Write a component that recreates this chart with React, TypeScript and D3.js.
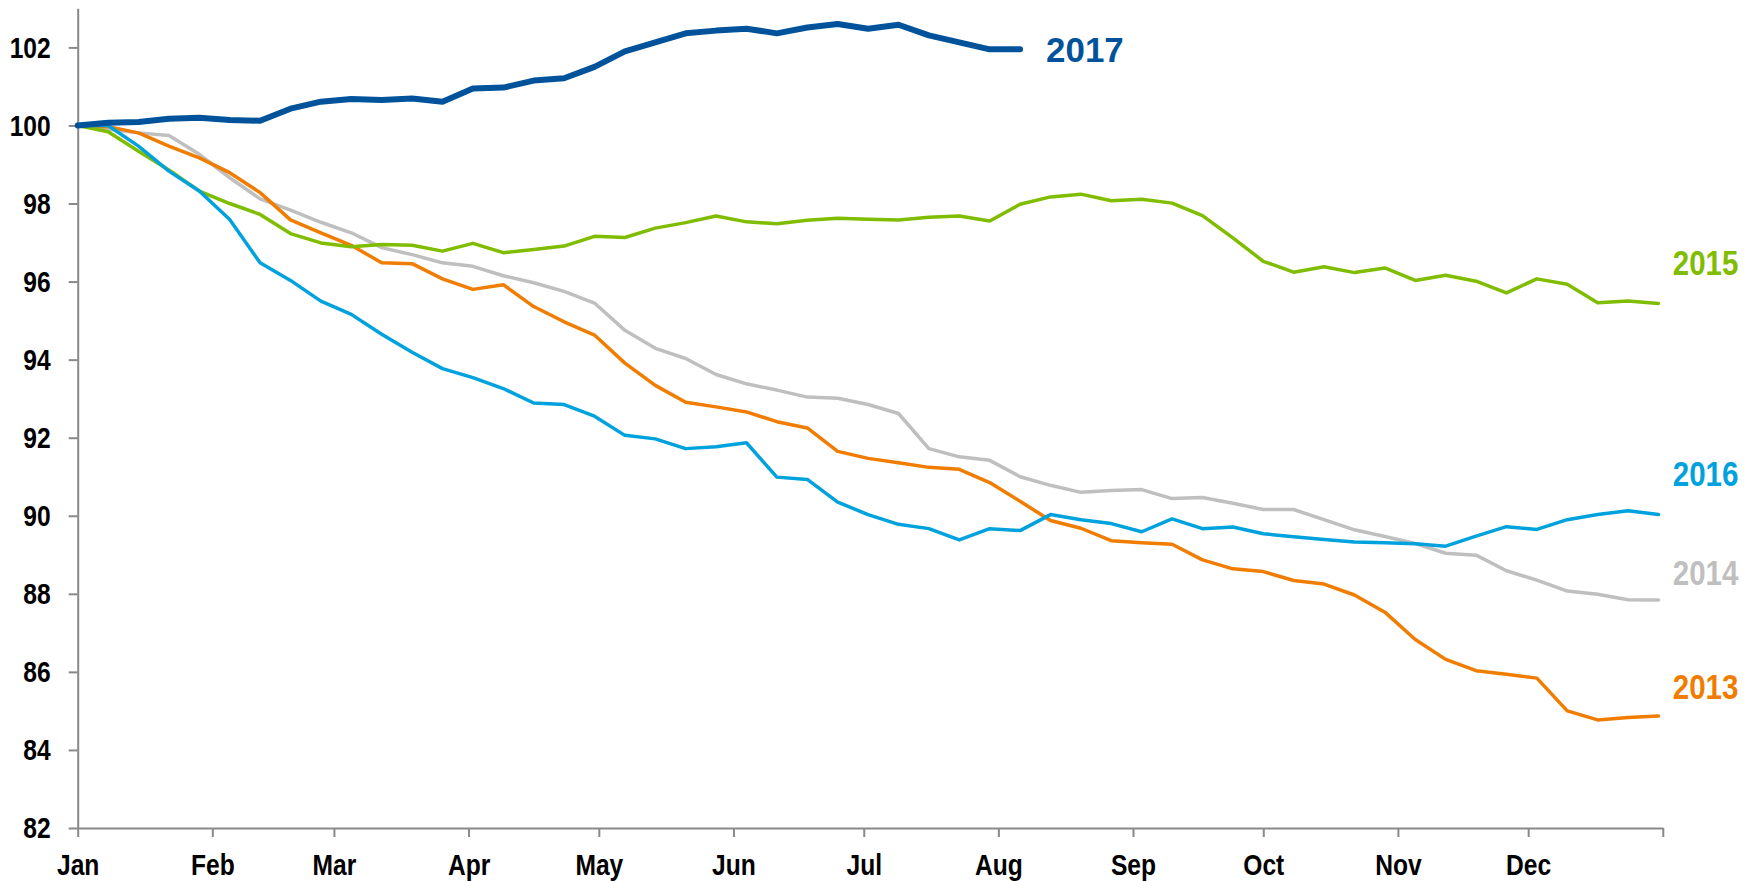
import React, { useRef, useEffect } from 'react';
import * as d3 from 'd3';

// weekly index values, base = 100 on 1 Jan
const start = new Date(2017, 0, 1);
const weeks: Date[] = d3.range(53).map(i => d3.timeDay.offset(start, i * 7));

const monthLabels = ['Jan', 'Feb', 'Mar', 'Apr', 'May', 'Jun', 'Jul', 'Aug', 'Sep', 'Oct', 'Nov', 'Dec'];
const yTicks = [82, 84, 86, 88, 90, 92, 94, 96, 98, 100, 102];

const values2013 = [100, 99.97, 99.81, 99.47, 99.17, 98.79, 98.28, 97.58, 97.25, 96.93, 96.48, 96.46, 96.07, 95.8, 95.92, 95.36, 94.97, 94.63, 93.91, 93.34, 92.91, 92.79, 92.66, 92.41, 92.25, 91.65, 91.47, 91.36, 91.24, 91.19, 90.85, 90.37, 89.88, 89.68, 89.36, 89.31, 89.27, 88.87, 88.64, 88.57, 88.34, 88.25, 87.97, 87.53, 86.83, 86.32, 86.03, 85.94, 85.84, 85.0, 84.77, 84.83, 84.87];
const values2014 = [100, 99.9, 99.81, 99.74, 99.26, 98.66, 98.12, 97.83, 97.52, 97.25, 96.87, 96.69, 96.48, 96.39, 96.15, 95.97, 95.75, 95.45, 94.75, 94.29, 94.03, 93.62, 93.38, 93.22, 93.04, 93.01, 92.85, 92.62, 91.72, 91.51, 91.42, 91.0, 90.78, 90.6, 90.65, 90.67, 90.44, 90.47, 90.32, 90.16, 90.16, 89.9, 89.64, 89.47, 89.29, 89.04, 88.99, 88.59, 88.35, 88.07, 87.99, 87.85, 87.84];
const values2015 = [100, 99.84, 99.34, 98.86, 98.32, 98.0, 97.72, 97.23, 96.99, 96.89, 96.95, 96.93, 96.78, 96.98, 96.74, 96.82, 96.91, 97.16, 97.13, 97.37, 97.51, 97.68, 97.53, 97.48, 97.57, 97.62, 97.6, 97.58, 97.65, 97.68, 97.55, 97.98, 98.17, 98.24, 98.07, 98.11, 98.01, 97.69, 97.12, 96.52, 96.24, 96.38, 96.23, 96.35, 96.03, 96.16, 96.01, 95.71, 96.07, 95.93, 95.46, 95.5, 95.44];
const values2016 = [100, 100.0, 99.47, 98.83, 98.32, 97.59, 96.48, 96.03, 95.5, 95.16, 94.65, 94.19, 93.77, 93.54, 93.26, 92.89, 92.85, 92.55, 92.06, 91.97, 91.72, 91.77, 91.87, 90.99, 90.93, 90.35, 90.03, 89.78, 89.67, 89.38, 89.67, 89.62, 90.03, 89.9, 89.8, 89.59, 89.92, 89.67, 89.71, 89.54, 89.46, 89.39, 89.33, 89.31, 89.28, 89.22, 89.48, 89.72, 89.65, 89.9, 90.03, 90.13, 90.03];
const values2017 = [100, 100.07, 100.09, 100.17, 100.2, 100.14, 100.12, 100.43, 100.61, 100.68, 100.65, 100.69, 100.61, 100.95, 100.97, 101.15, 101.21, 101.5, 101.9, 102.13, 102.36, 102.43, 102.48, 102.36, 102.51, 102.6, 102.48, 102.58, 102.31, 102.13, 101.95, 101.95];

// Arial Narrow look-alike: Liberation Sans squeezed horizontally
const FONT = "'Liberation Sans', Arial, sans-serif";
const NARROW = 0.82;

const App: React.FC = () => {
  const svgRef = useRef<SVGSVGElement | null>(null);

  useEffect(() => {
    const svg = d3.select(svgRef.current);
    svg.selectAll('*').remove();

    const x = d3.scaleTime()
      .domain([start, new Date(2018, 0, 1)])
      .range([77.7, 1662.8]);

    const y = d3.scaleLinear()
      .domain([82, 103])
      .range([828, 828 - 21 * 39.03]);

    const axisColor = '#898989';

    // y axis
    const gy = svg.append('g')
      .attr('transform', `translate(${x.range()[0]},0)`)
      .call(d3.axisLeft(y).tickValues(yTicks).tickSize(9).tickSizeOuter(0).tickPadding(18).tickFormat(d3.format('d')));
    gy.select('.domain').attr('stroke', axisColor).attr('stroke-width', 2);
    gy.selectAll('.tick line').attr('stroke', axisColor).attr('stroke-width', 2);
    gy.selectAll('.tick text')
      .attr('fill', '#000')
      .attr('x', -27 / NARROW)
      .attr('transform', `scale(${NARROW},1)`)
      .style('font-family', FONT)
      .style('font-size', '30px')
      .style('font-weight', 'bold');

    // x axis, ticks at month starts plus year end
    const monthStarts = d3.timeMonth.range(start, new Date(2018, 0, 2));
    const gx = svg.append('g')
      .attr('transform', `translate(0,${y(82)})`)
      .call(d3.axisBottom(x)
        .tickValues(monthStarts)
        .tickSize(9)
        .tickSizeOuter(0)
        .tickPadding(17)
        .tickFormat((d, i) => monthLabels[i] ?? ''));
    gx.select('.domain').attr('stroke', axisColor).attr('stroke-width', 2);
    gx.selectAll('.tick line').attr('stroke', axisColor).attr('stroke-width', 2);
    gx.selectAll('.tick text')
      .attr('fill', '#000')
      .attr('transform', `scale(${NARROW},1)`)
      .style('font-family', FONT)
      .style('font-size', '30px')
      .style('font-weight', 'bold');

    const series = [
      { name: '2014', values: values2014, color: '#BFBFBF', w: 3.5, labelDy: -28.5, sx: NARROW },
      { name: '2013', values: values2013, color: '#F07D00', w: 3.5, labelDy: -30, sx: NARROW },
      { name: '2015', values: values2015, color: '#80BC00', w: 3.5, labelDy: -41, sx: NARROW },
      { name: '2016', values: values2016, color: '#00A2DE', w: 3.5, labelDy: -42, sx: NARROW },
      { name: '2017', values: values2017, color: '#00539B', w: 6, labelDy: 0, sx: 0.97 },
    ];

    const line = d3.line<number>()
      .x((_, i) => x(weeks[i]))
      .y(d => y(d));

    series.forEach(s => {
      svg.append('path')
        .datum(s.values)
        .attr('fill', 'none')
        .attr('stroke', s.color)
        .attr('stroke-width', s.w)
        .attr('stroke-linejoin', 'round')
        .attr('stroke-linecap', 'round')
        .attr('d', line);

      const last = s.values.length - 1;
      const lx = s.name === '2017' ? x(weeks[last]) + 26 : x.range()[1] + 10;
      const ly = y(s.values[last]) + s.labelDy;
      svg.append('text')
        .attr('transform', `translate(${lx},${ly}) scale(${s.sx},1)`)
        .attr('dy', '0.36em')
        .attr('fill', s.color)
        .style('font-family', FONT)
        .style('font-size', '36px')
        .style('font-weight', 'bold')
        .text(s.name);
    });
  }, []);

  return (
    <svg
      ref={svgRef}
      width={1755}
      height={881}
      style={{ position: 'absolute', left: 0, top: 0, background: '#fff' }}
    />
  );
};

export default App;
